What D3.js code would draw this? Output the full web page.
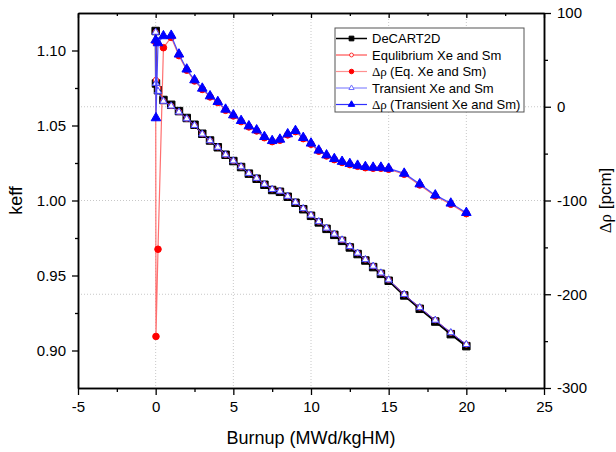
<!DOCTYPE html>
<html>
<head>
<meta charset="utf-8">
<script src="https://cdn.jsdelivr.net/npm/d3@7"></script>
<style>
body { margin: 0; background: #fff; }
text { font-family: Arial, "Liberation Sans", sans-serif; fill: #000; }
</style>
</head>
<body>
<div id="chart"></div>
<script>
// burnup steps (MWd/kgHM)
var burnup = [0, 0.02, 0.15, 0.5, 1, 1.5, 2, 2.5, 3, 3.5, 4, 4.5, 5, 5.5, 6, 6.5, 7, 7.5, 8, 8.5,
  9, 9.5, 10, 10.5, 11, 11.5, 12, 12.5, 13, 13.5, 14, 14.5, 15, 16, 17, 18, 19, 20];

var keffDecart = [1.113, 1.078, 1.0735, 1.067, 1.0638, 1.0596, 1.0550, 1.0505, 1.0445, 1.0400,
  1.0355, 1.0305, 1.0263, 1.0223, 1.0179, 1.0145, 1.0105, 1.0070, 1.0058, 1.0025,
  0.9985, 0.9942, 0.9898, 0.9854, 0.9811, 0.9771, 0.9731, 0.9687, 0.9643, 0.9600,
  0.9556, 0.9511, 0.9465, 0.9367, 0.9278, 0.9193, 0.9109, 0.9029];

var keffEq = [1.1123, 1.0804, 1.0750, 1.0664, 1.0631, 1.0591, 1.0546, 1.0502, 1.0443, 1.0399,
  1.0355, 1.0305, 1.0264, 1.0225, 1.0181, 1.0148, 1.0109, 1.0074, 1.0062, 1.0028,
  0.9988, 0.9946, 0.9902, 0.9859, 0.9816, 0.9777, 0.9737, 0.9693, 0.9649, 0.9606,
  0.9562, 0.9517, 0.9471, 0.9374, 0.9286, 0.9202, 0.9119, 0.9040];

var keffTr = [1.1122, 1.0781, 1.0728, 1.0662, 1.0630, 1.0590, 1.0545, 1.0501, 1.0443, 1.0399,
  1.0355, 1.0305, 1.0264, 1.0225, 1.0181, 1.0148, 1.0108, 1.0074, 1.0062, 1.0028,
  0.9988, 0.9946, 0.9902, 0.9859, 0.9816, 0.9776, 0.9737, 0.9693, 0.9649, 0.9606,
  0.9562, 0.9517, 0.9471, 0.9374, 0.9286, 0.9202, 0.9119, 0.9040];

// reactivity difference (pcm)
var dRhoEq = [69, -245, -152, 63, 74, 54.5, 39, 27.5, 18.5, 10.5,
  4.5, -3.8, -9.8, -15.8, -21.5, -25.8, -33, -37.2, -35.7, -30,
  -26.5, -34, -40, -47.4, -52.5, -56.4, -59.4, -61.7, -63.5, -65,
  -65.6, -65.6, -66.7, -72, -83.4, -95.2, -104, -114];

var dRhoTr = [71, -12, 68, 75.5, 76, 56, 40, 28.5, 19.6, 11.4,
  5.3, -2.8, -8.9, -14.9, -20.6, -24.9, -32, -36.3, -34.8, -29.1,
  -25.6, -33, -39, -46.5, -51.6, -55.5, -58.5, -60.8, -62.6, -64,
  -64.7, -64.7, -65.8, -71.1, -82.5, -94.3, -103, -113];

var xTicks = [-5, 0, 5, 10, 15, 20, 25];
var keffTicks = [0.90, 0.95, 1.00, 1.05, 1.10];
var rhoTicks = [-300, -200, -100, 0, 100];

var legendLabels = ["DeCART2D", "Equlibrium Xe and Sm", "(Eq. Xe and Sm)", "Transient Xe and Sm", "(Transient Xe and Sm)"];

var margin = {top: 13, right: 72, bottom: 64, left: 78}
  , width = 616 - margin.left - margin.right
  , height = 452 - margin.top - margin.bottom;

var xScale = d3.scaleLinear().domain([-5, 25]).range([0, width]);
var yKeff = d3.scaleLinear().domain([0.875, 1.125]).range([height, 0]);
var yRho = d3.scaleLinear().domain([-300, 100]).range([height, 0]);

var svg = d3.select("#chart").append("svg")
    .attr("width", 616)
    .attr("height", 452)
  .append("g")
    .attr("transform", "translate(" + margin.left + "," + margin.top + ")");

// dotted grid
svg.selectAll(".vgrid")
    .data(xTicks.slice(1, -1))
  .enter().append("line")
    .attr("x1", function(d) { return xScale(d); })
    .attr("x2", function(d) { return xScale(d); })
    .attr("y1", 0).attr("y2", height)
    .attr("stroke", "#c8c8c8").attr("stroke-dasharray", "1,2");

svg.selectAll(".hgrid")
    .data(rhoTicks.slice(1, -1))
  .enter().append("line")
    .attr("y1", function(d) { return yRho(d); })
    .attr("y2", function(d) { return yRho(d); })
    .attr("x1", 0).attr("x2", width)
    .attr("stroke", "#c8c8c8").attr("stroke-dasharray", "1,2");

function addSeries(values, yScale, lineColor, lineWidth, symbol, size, fill, stroke)
{
  var line = d3.line()
      .x(function(d, i) { return xScale(burnup[i]); })
      .y(function(d) { return yScale(d); });

  svg.append("path")
      .datum(values)
      .attr("fill", "none")
      .attr("stroke", lineColor)
      .attr("stroke-width", lineWidth)
      .attr("d", line);

  svg.append("g").selectAll("path")
      .data(values)
    .enter().append("path")
      .attr("transform", function(d, i) { return "translate(" + xScale(burnup[i]) + "," + yScale(d) + ")"; })
      .attr("d", d3.symbol().type(symbol).size(size))
      .attr("fill", fill)
      .attr("stroke", stroke)
      .attr("stroke-width", 1);
}

addSeries(keffDecart, yKeff, "#000", 2, d3.symbolSquare, 56, "#000", "#000");
addSeries(keffEq, yKeff, "#ff2020", 1, d3.symbolCircle, 22, "#fff", "#ff2020");
addSeries(dRhoEq, yRho, "#ff7070", 1.2, d3.symbolCircle, 34, "#ff0000", "#ff0000");
addSeries(keffTr, yKeff, "#4040ff", 1, d3.symbolTriangle, 22, "#fff", "#4040ff");
addSeries(dRhoTr, yRho, "#4848ff", 1.2, d3.symbolTriangle, 40, "#0000ff", "#0000ff");

// axes
var fmt = function(d) { return String(d); };

svg.append("g")
    .attr("transform", "translate(0," + height + ")")
    .attr("class", "axis")
    .call(d3.axisBottom(xScale).tickValues(xTicks).tickFormat(fmt).tickSize(7).tickSizeOuter(0).tickPadding(6));
svg.append("g")
    .attr("transform", "translate(0," + height + ")")
    .attr("class", "axis minor")
    .call(d3.axisBottom(xScale).tickValues(d3.range(-2.5, 25, 5)).tickFormat("").tickSize(4).tickSizeOuter(0));

svg.append("g")
    .attr("class", "axis")
    .call(d3.axisTop(xScale).tickValues(xTicks).tickFormat("").tickSize(-5).tickSizeOuter(0));
svg.append("g")
    .attr("class", "axis minor")
    .call(d3.axisTop(xScale).tickValues(d3.range(-2.5, 25, 5)).tickFormat("").tickSize(-3).tickSizeOuter(0));

svg.append("g")
    .attr("class", "axis")
    .call(d3.axisLeft(yKeff).tickValues(keffTicks).tickFormat(d3.format(".2f")).tickSize(6).tickSizeOuter(0).tickPadding(6));
svg.append("g")
    .attr("class", "axis minor")
    .call(d3.axisLeft(yKeff).tickValues(d3.range(0.925, 1.125, 0.05)).tickFormat("").tickSize(3).tickSizeOuter(0));

svg.append("g")
    .attr("transform", "translate(" + width + ",0)")
    .attr("class", "axis")
    .call(d3.axisRight(yRho).tickValues(rhoTicks).tickFormat(fmt).tickSize(7).tickSizeOuter(0).tickPadding(6));
svg.append("g")
    .attr("transform", "translate(" + width + ",0)")
    .attr("class", "axis minor")
    .call(d3.axisRight(yRho).tickValues(d3.range(-250, 100, 100)).tickFormat("").tickSize(4).tickSizeOuter(0));

svg.selectAll(".axis .domain").attr("stroke", "#000").attr("stroke-width", 1.5);
svg.selectAll(".axis line").attr("stroke", "#000").attr("stroke-width", 1.3);
svg.selectAll(".axis text")
    .style("font-family", "Arial, 'Liberation Sans', sans-serif")
    .style("font-size", "15px")
    .attr("fill", "#222");

// axis titles
svg.append("text")
    .attr("x", width / 2)
    .attr("y", height + 56)
    .attr("text-anchor", "middle")
    .style("font-size", "18px")
    .text("Burnup (MWd/kgHM)");

svg.append("text")
    .attr("transform", "translate(" + (16 - margin.left) + "," + (height / 2) + ") rotate(-90)")
    .attr("text-anchor", "middle")
    .attr("dy", "0.35em")
    .style("font-size", "18px")
    .text("keff");

var rt = svg.append("text")
    .attr("transform", "translate(" + (width + 61) + "," + (height / 2) + ") rotate(-90)")
    .attr("text-anchor", "middle")
    .attr("dy", "0.35em")
    .style("font-size", "17px");
rt.append("tspan").style("font-family", "'Liberation Serif', serif").text("Δρ");
rt.append("tspan").text(" [pcm]");

// legend
var legend = svg.append("g").attr("transform", "translate(" + (335 - margin.left) + "," + (28 - margin.top) + ")");
legend.append("rect")
    .attr("width", 189).attr("height", 84)
    .attr("fill", "#fff").attr("stroke", "#555").attr("stroke-width", 1);

var legendStyle = [
  {color: "#000", lw: 1.5, sym: d3.symbolSquare, size: 22, fill: "#000", stroke: "#000"},
  {color: "#ff3030", lw: 1, sym: d3.symbolCircle, size: 12, fill: "#fff", stroke: "#ff3030"},
  {color: "#ff9090", lw: 1.2, sym: d3.symbolCircle, size: 16, fill: "#ff0000", stroke: "#ff0000"},
  {color: "#7070ff", lw: 1, sym: d3.symbolTriangle, size: 12, fill: "#fff", stroke: "#7070ff"},
  {color: "#3030ff", lw: 1.2, sym: d3.symbolTriangle, size: 18, fill: "#0000ff", stroke: "#0000ff"}
];

legendLabels.forEach(function(label, i) {
  var y = 10.5 + i * 16.5;
  var s = legendStyle[i];
  legend.append("line")
      .attr("x1", 1).attr("x2", 32).attr("y1", y).attr("y2", y)
      .attr("stroke", s.color).attr("stroke-width", s.lw);
  legend.append("path")
      .attr("transform", "translate(16.5," + y + ")")
      .attr("d", d3.symbol().type(s.sym).size(s.size))
      .attr("fill", s.fill).attr("stroke", s.stroke);
  var t = legend.append("text")
      .attr("x", 37).attr("y", y).attr("dy", "0.35em")
      .style("font-size", "13px");
  if (i == 2 || i == 4) {
    t.append("tspan").style("font-family", "'Liberation Serif', serif").text("Δρ ");
  }
  t.append("tspan").text(label);
});
</script>
</body>
</html>
